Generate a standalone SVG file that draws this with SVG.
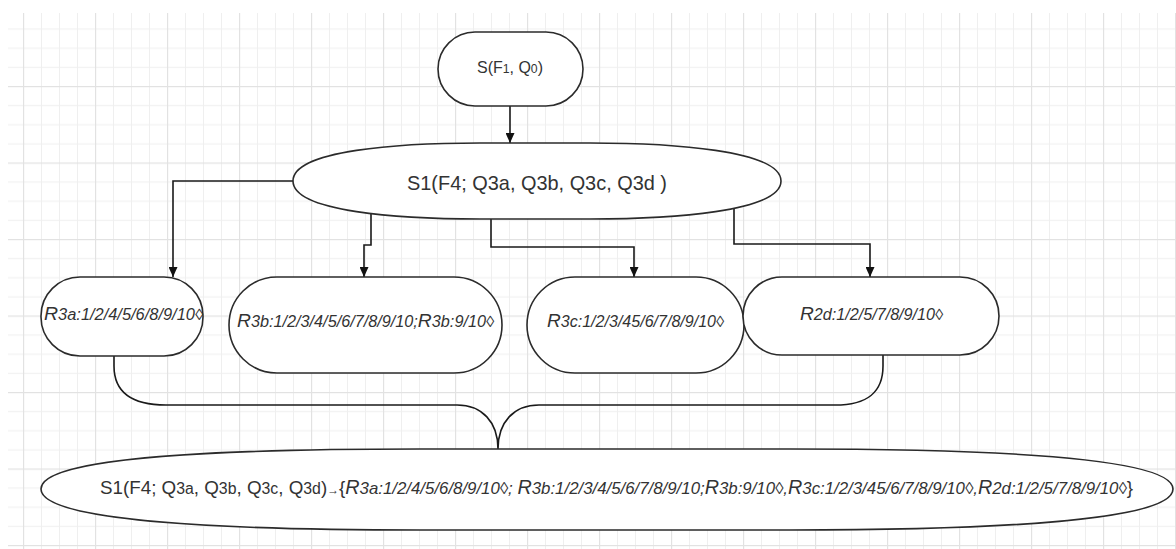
<svg xmlns="http://www.w3.org/2000/svg" width="1176" height="549" viewBox="0 0 1176 549">
<style>
.shape{fill:#fff;stroke:#2b2b2b;stroke-width:1.6}
.conn{fill:none;stroke:#1a1a1a;stroke-width:1.6}
.t{font-family:"Liberation Sans",Arial,sans-serif;fill:#333}
.it{font-style:italic}
.minor{fill:#efefef}
.major{fill:#e2e2e2}
</style>
<defs>
<pattern id="grid" patternUnits="userSpaceOnUse" x="23" y="86" width="72" height="76.5">
<rect class="minor" x="18" y="0" width="1" height="76.5"/>
<rect class="minor" x="36" y="0" width="1" height="76.5"/>
<rect class="minor" x="54" y="0" width="1" height="76.5"/>
<rect class="minor" x="0" y="19.1" width="72" height="1"/>
<rect class="minor" x="0" y="38.25" width="72" height="1"/>
<rect class="minor" x="0" y="57.4" width="72" height="1"/>
<rect class="major" x="0" y="0" width="1.2" height="76.5"/>
<rect class="major" x="0" y="0" width="72" height="1.2"/>
</pattern>
<marker id="arr" markerUnits="userSpaceOnUse" markerWidth="10" markerHeight="9" refX="10" refY="4.5" orient="auto">
<path d="M0,0 L10,4.5 L0,9 Z" fill="#111"/>
</marker>
</defs>
<rect x="0" y="0" width="1176" height="549" fill="#fff"/>
<rect x="8" y="13" width="1168" height="536" fill="url(#grid)"/>

<g id="connectors">
<path class="conn" d="M510,106 V143" marker-end="url(#arr)"/>
<path class="conn" d="M294,181 H173 V277" marker-end="url(#arr)"/>
<path class="conn" d="M371,212 V245 H364 V277" marker-end="url(#arr)"/>
<path class="conn" d="M491,212 V247 H634 V277" marker-end="url(#arr)"/>
<path class="conn" d="M734,205 V244 H870 V277" marker-end="url(#arr)"/>
<path class="conn" d="M114,355 V366 C114,392 132,405 166,405 H457 C482,405 498,422 498,449 C498,422 514,405 539,405 H835 C868,405 883,392 883,366 V355"/>
</g>

<g id="node-s">
<rect class="shape" x="438" y="32" width="145" height="74" rx="37" ry="37"/>
<text class="t" x="477" y="73" font-size="17" textLength="66" lengthAdjust="spacingAndGlyphs">S(F<tspan font-size="13">1</tspan>, Q<tspan font-size="13">0</tspan>)</text>
</g>

<g id="node-s1">
<path class="shape" d="M293,181 C293,150 400,143 480,143 H590 C670,143 781,150 781,181 C781,212 670,219 590,219 H480 C400,219 293,212 293,181 Z"/>
<text class="t" x="407" y="190" font-size="21" textLength="260" lengthAdjust="spacingAndGlyphs">S1(F4; Q3a, Q3b, Q3c, Q3d )</text>
</g>

<g id="node-r3a">
<rect class="shape" x="41" y="277" width="162" height="79" rx="39" ry="39"/>
<text class="t it" x="44" y="320" font-size="16" textLength="159" lengthAdjust="spacingAndGlyphs"><tspan font-size="19">R</tspan>3a:1/2/4/5/6/8/9/10◊</text>
</g>

<g id="node-r3b">
<rect class="shape" x="229" y="277" width="273" height="96" rx="48" ry="48"/>
<text class="t it" x="237" y="327" font-size="16" textLength="257" lengthAdjust="spacingAndGlyphs"><tspan font-size="19">R</tspan>3b:1/2/3/4/5/6/7/8/9/10;<tspan font-size="19">R</tspan>3b:9/10◊</text>
</g>

<g id="node-r3c">
<rect class="shape" x="527" y="277" width="217" height="96" rx="48" ry="48"/>
<text class="t it" x="547" y="327" font-size="16" textLength="177" lengthAdjust="spacingAndGlyphs"><tspan font-size="19">R</tspan>3c:1/2/3/45/6/7/8/9/10◊</text>
</g>

<g id="node-r2d">
<rect class="shape" x="743" y="277" width="256" height="78" rx="39" ry="39"/>
<text class="t it" x="800" y="320" font-size="16" textLength="143" lengthAdjust="spacingAndGlyphs"><tspan font-size="19">R</tspan>2d:1/2/5/7/8/9/10◊</text>
</g>

<g id="node-result">
<path class="shape" d="M41,489 C41,456 230,449 420,449 H790 C980,449 1173,456 1173,489 C1173,522 980,530 790,530 H420 C230,530 41,522 41,489 Z"/>
<text class="t" x="100" y="494" font-size="19" textLength="1033" lengthAdjust="spacingAndGlyphs">S1(F4; Q<tspan font-size="16">3a</tspan>, Q<tspan font-size="16">3b</tspan>, Q<tspan font-size="16">3c</tspan>, Q<tspan font-size="16">3d</tspan>)<tspan font-size="12">→</tspan>{<tspan class="it" font-size="20">R</tspan><tspan class="it" font-size="17">3a:1/2/4/5/6/8/9/10◊; </tspan><tspan class="it" font-size="20">R</tspan><tspan class="it" font-size="17">3b:1/2/3/4/5/6/7/8/9/10;</tspan><tspan class="it" font-size="20">R</tspan><tspan class="it" font-size="17">3b:9/10◊,</tspan><tspan class="it" font-size="20">R</tspan><tspan class="it" font-size="17">3c:1/2/3/45/6/7/8/9/10◊,</tspan><tspan class="it" font-size="20">R</tspan><tspan class="it" font-size="17">2d:1/2/5/7/8/9/10◊</tspan>}</text>
</g>
</svg>
